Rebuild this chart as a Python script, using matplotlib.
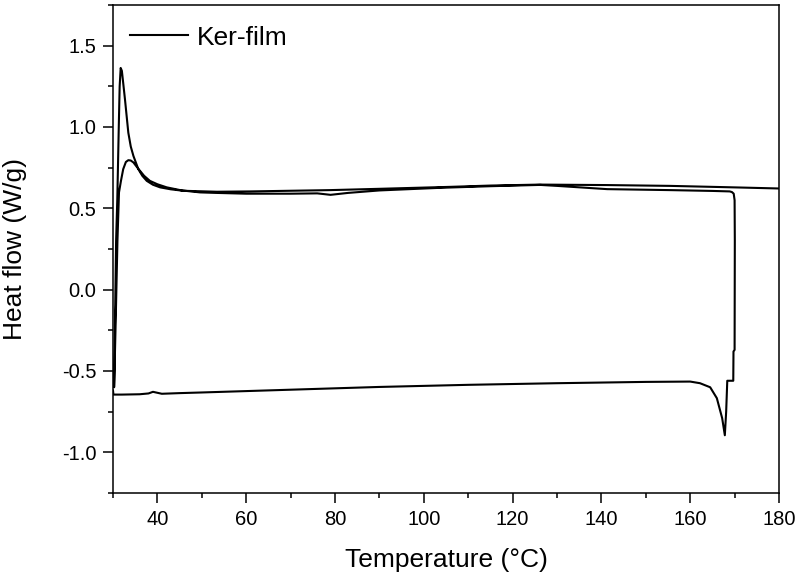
import matplotlib
matplotlib.use("Agg")
import matplotlib.pyplot as plt
from matplotlib.ticker import MultipleLocator

plt.rcParams['font.family'] = ['Liberation Sans', 'DejaVu Sans']
plt.rcParams['axes.unicode_minus'] = False

# one continuous DSC trace: baseline -> melt dip -> return -> reheating with spike
temp = [30.0, 30.1, 32.0, 36.0, 38.0, 39.0, 40.0, 41.0, 45.0, 50.0, 70.0, 90.0, 110.0,
        130.0, 150.0, 160.0, 162.2, 164.5, 166.0, 167.2, 167.8, 168.1, 168.35, 169.7,
        169.75, 170.0, 170.05, 170.0, 169.8, 169.4, 168.9, 165.0, 155.5, 141.3, 130.0,
        126.2, 115.0, 103.6, 90.0, 83.0, 79.0, 76.0, 70.0, 60.0, 53.0, 49.6, 45.5,
        42.1, 40.0, 38.3, 37.0, 36.1, 35.3, 34.6, 34.0, 33.45, 32.9, 32.3, 31.8, 31.35,
        31.0, 30.6, 30.3, 30.25,
        30.4, 30.7, 30.97, 31.3, 31.5, 31.73, 32.0, 32.3, 32.7, 33.1, 33.45, 34.0, 34.6,
        35.7, 36.6, 37.6, 39.0, 40.6, 43.0, 45.8, 53.4, 60.9, 78.9, 90.0, 105.9, 115.0,
        126.2, 141.3, 155.5, 165.0, 171.2, 180.0]
heat_flow = [-0.62, -0.645, -0.645, -0.643, -0.638, -0.628, -0.634, -0.64, -0.636, -0.632,
             -0.615, -0.598, -0.585, -0.575, -0.567, -0.565, -0.575, -0.60, -0.667, -0.79,
             -0.895, -0.75, -0.56, -0.56, -0.38, -0.37, 0.3, 0.55, 0.59, 0.600, 0.604,
             0.607, 0.612, 0.618, 0.638, 0.644, 0.636, 0.626, 0.61, 0.595, 0.583, 0.592,
             0.59, 0.59, 0.595, 0.598, 0.61, 0.629, 0.648, 0.669, 0.70, 0.730, 0.757,
             0.782, 0.794, 0.796, 0.785, 0.741, 0.67, 0.598, 0.3, -0.2, -0.55, -0.6,
             -0.3, 0.3, 0.557, 1.0, 1.25, 1.363, 1.345, 1.27, 1.169, 1.06, 0.965, 0.88,
             0.822, 0.741, 0.70, 0.669, 0.645, 0.629, 0.617, 0.608, 0.602, 0.604, 0.612,
             0.62, 0.632, 0.64, 0.646, 0.643, 0.638, 0.632, 0.628, 0.622]

fig = plt.figure(figsize=(7.96, 5.74), dpi=100)
ax = fig.add_axes([113/796, 81/574, 666/796, 488/574])

ax.plot(temp, heat_flow, color='black', linewidth=1.5, label='Ker-film')

ax.set_xlim(30, 180)
ax.set_ylim(-1.25, 1.75)
ax.xaxis.set_minor_locator(MultipleLocator(10))
ax.yaxis.set_minor_locator(MultipleLocator(0.25))
ax.set_xticks([40, 60, 80, 100, 120, 140, 160, 180])
ax.set_yticks([-1.0, -0.5, 0.0, 0.5, 1.0, 1.5])
ax.set_yticklabels(['-1.0', '-0.5', '0.0', '0.5', '1.0', '1.5'])

ax.tick_params(which='both', direction='out', top=False, right=False, width=1.1)
ax.tick_params(which='major', length=7, pad=5, labelsize=14.5)
ax.tick_params(which='minor', length=3.5)
for s in ax.spines.values():
    s.set_linewidth(1.1)

ax.set_xlabel('Temperature (°C)', fontsize=19, labelpad=14)
ax.set_ylabel('Heat flow (W/g)', fontsize=19, labelpad=25)

ax.legend(loc='center left', bbox_to_anchor=(0.0255, 0.933), frameon=False,
          fontsize=19, handlelength=2.2, handletextpad=0.33, borderpad=0, borderaxespad=0)

fig.savefig('out.png', dpi=100)
